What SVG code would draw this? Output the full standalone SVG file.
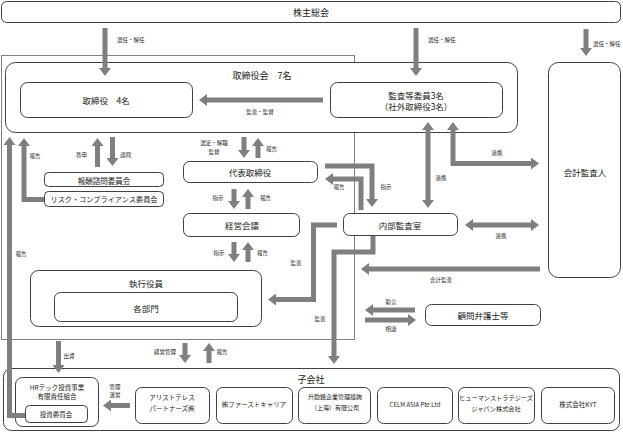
<svg xmlns="http://www.w3.org/2000/svg" width="623" height="434" viewBox="0 0 623 434">
<style>
.box{fill:#fff;stroke:#404040;stroke-width:1}
.frame{fill:none;stroke:#808080;stroke-width:1}
.t{font-family:"Noto Sans CJK JP","Noto Sans",sans-serif;font-size:8.5px;fill:#222;text-anchor:middle;dominant-baseline:central}
.c{font-family:"Noto Sans CJK JP","Noto Sans",sans-serif;font-size:6.5px;fill:#222;text-anchor:middle;dominant-baseline:central}
.s{font-family:"Noto Sans CJK JP","Noto Sans",sans-serif;font-size:5.5px;fill:#222;dominant-baseline:central}
.sm{text-anchor:middle}
.a{fill:none;stroke:#7f7f7f;stroke-width:5;stroke-linejoin:miter;marker-end:url(#ah)}
.d{marker-start:url(#ah)}
</style>
<defs>
<marker id="ah" viewBox="0 0 8 12" refX="0" refY="6" markerWidth="8" markerHeight="12" markerUnits="userSpaceOnUse" orient="auto-start-reverse"><path d="M0,0 L8,6 L0,12 z" fill="#7f7f7f"/></marker>
</defs>
<rect width="623" height="434" fill="#fff"/>
<rect class="frame" x="1.5" y="55.5" width="353" height="284"/>

<g id="shareholders"><rect class="box" x="1.5" y="1.5" width="619" height="21" rx="5"/><text class="t" x="311" y="12" style="font-size:9px">株主総会</text></g>
<g id="board"><rect class="box" x="5.5" y="62.5" width="512" height="70" rx="10"/><text class="t" x="262" y="75" style="font-size:9px">取締役会　7名</text></g>
<g id="directors"><rect class="box" x="20.5" y="82.5" width="172" height="35" rx="7"/><text class="t" x="106" y="100">取締役　4名</text></g>
<g id="audit-committee"><rect class="box" x="330.5" y="82.5" width="172" height="35" rx="7"/><text class="t" x="416" y="95">監査等委員3名</text><text class="t" x="416" y="106">（社外取締役3名）</text></g>
<g id="accounting-auditor"><rect class="box" x="548.5" y="62.5" width="72" height="215" rx="10"/><text class="t" x="585" y="172">会計監査人</text></g>
<g id="compensation"><rect class="box" x="44.5" y="172.5" width="119" height="14" rx="4"/><text class="t" x="104" y="180" style="font-size:7.5px">報酬諮問委員会</text></g>
<g id="risk"><rect class="box" x="44.5" y="191.5" width="119" height="15" rx="4"/><text class="t" x="104" y="199" style="font-size:7.2px">リスク・コンプライアンス委員会</text></g>
<g id="president"><rect class="box" x="183.5" y="161.5" width="134" height="21" rx="6"/><text class="t" x="250" y="172">代表取締役</text></g>
<g id="management-meeting"><rect class="box" x="183.5" y="213.5" width="116" height="23" rx="6"/><text class="t" x="242" y="225">経営会議</text></g>
<g id="internal-audit"><rect class="box" x="343.5" y="213.5" width="114" height="22" rx="6"/><text class="t" x="400" y="225">内部監査室</text></g>
<g id="officers"><rect class="box" x="30.5" y="270.5" width="231" height="56" rx="8"/><text class="t" x="146" y="283">執行役員</text></g>
<g id="departments"><rect class="box" x="54.5" y="292.5" width="183" height="29" rx="6"/><text class="t" x="146" y="308">各部門</text></g>
<g id="lawyers"><rect class="box" x="425.5" y="304.5" width="115" height="21" rx="6"/><text class="t" x="483" y="315">顧問弁護士等</text></g>
<g id="subsidiaries"><rect class="box" x="3.5" y="368.5" width="616" height="62" rx="8"/><text class="t" x="311" y="379" style="font-size:9px">子会社</text></g>
<g id="hrtech"><rect class="box" x="15.5" y="377.5" width="83" height="49" rx="7"/><text class="c" x="57" y="387">HRテック投資事業</text><text class="c" x="57" y="396">有限責任組合</text></g>
<g id="investment-committee"><rect class="box" x="25.5" y="405.5" width="62" height="17" rx="4"/><text class="c" x="56" y="414">投資委員会</text></g>
<g id="aristotles"><rect class="box" x="135.5" y="387.5" width="74" height="36" rx="6"/><text class="c" x="172" y="397">アリストテレス</text><text class="c" x="172" y="408">パートナーズ㈱</text></g>
<g id="first-career"><rect class="box" x="216.5" y="387.5" width="76" height="36" rx="6"/><text class="c" x="254" y="404">㈱ファーストキャリア</text></g>
<g id="shanghai"><rect class="box" x="298.5" y="387.5" width="72" height="36" rx="6"/><text class="c" x="335" y="396" style="font-size:6px">升励銘企業管理諮詢</text><text class="c" x="335" y="407" style="font-size:6px">（上海）有限公司</text></g>
<g id="celm"><rect class="box" x="377.5" y="387.5" width="75" height="36" rx="6"/><text class="c" x="415" y="404" style="font-size:6px">CELM ASIA Pte.Ltd</text></g>
<g id="human-strategies"><rect class="box" x="458.5" y="387.5" width="76" height="36" rx="6"/><text class="c" x="496" y="397" style="font-size:6.2px">ヒューマンストラテジーズ</text><text class="c" x="496" y="408" style="font-size:6.2px">ジャパン株式会社</text></g>
<g id="kyt"><rect class="box" x="541.5" y="387.5" width="73" height="36" rx="6"/><text class="c" x="578" y="404">株式会社KYT</text></g>

<g id="connectors">
<path class="a" d="M105,28 V68"/>
<path class="a" d="M416,28 V68"/>
<path class="a" d="M586,29 V48"/>
<path class="a" d="M323,100 H207"/>
<path class="a" d="M97.5,167 V146"/>
<path class="a" d="M112.5,137 V158"/>
<path class="a" d="M44,199.5 H24 V146"/>
<path class="a" d="M25,415.5 H9.5 V145"/>
<path class="a" d="M244,137 V150"/>
<path class="a" d="M258,158 V146"/>
<path class="a" d="M234,189 V201"/>
<path class="a" d="M248,209 V197"/>
<path class="a" d="M234,242 V254"/>
<path class="a" d="M248,262 V250"/>
<path class="a" d="M361,210 V179 H333"/>
<path class="a" d="M325,166 H372 V199"/>
<path class="a" d="M337,225 H313.5 V299.5 H276"/>
<path class="a" d="M373,236 V252 H334 V356"/>
<path class="a d" d="M428,130 V200"/>
<path class="a d" d="M453,130 V163.5 H531"/>
<path class="a d" d="M473,225 H531"/>
<path class="a" d="M540,269 H369"/>
<path class="a" d="M415,310 H373"/>
<path class="a" d="M365,320 H408"/>
<path class="a" d="M58.5,341 V365"/>
<path class="a" d="M185,343 V355"/>
<path class="a" d="M209,363 V351"/>
<path class="a" d="M130,405.5 H111"/>
</g>

<g id="labels">
<text class="s" x="117" y="40">選任・解任</text>
<text class="s" x="428" y="40">選任・解任</text>
<text class="s" x="593" y="44">選任・解任</text>
<text class="s sm" x="260" y="112">監査・監督</text>
<text class="s sm" x="81.5" y="155">答申</text>
<text class="s" x="120" y="155">諮問</text>
<text class="s sm" x="35" y="156">報告</text>
<text class="s sm" x="214" y="143">選定・解職</text>
<text class="s sm" x="214" y="152">監督</text>
<text class="s" x="266" y="149">報告</text>
<text class="s sm" x="218" y="198">指示</text>
<text class="s" x="260" y="198">報告</text>
<text class="s sm" x="219" y="253">指示</text>
<text class="s" x="257" y="253">報告</text>
<text class="s sm" x="21" y="254">報告</text>
<text class="s sm" x="296" y="263">監査</text>
<text class="s sm" x="320" y="319">監査</text>
<text class="s sm" x="339" y="187">報告</text>
<text class="s sm" x="386" y="187">指示</text>
<text class="s sm" x="441" y="178">連携</text>
<text class="s sm" x="497" y="153">連携</text>
<text class="s sm" x="501" y="236">連携</text>
<text class="s sm" x="441" y="280">会計監査</text>
<text class="s sm" x="391" y="302">助言</text>
<text class="s sm" x="391" y="329">相談</text>
<text class="s sm" x="69" y="356">出資</text>
<text class="s sm" x="165" y="352">経営管理</text>
<text class="s sm" x="222" y="352">報告</text>
<text class="s sm" x="115" y="387">管理</text>
<text class="s sm" x="115" y="395">運営</text>
</g>
</svg>
